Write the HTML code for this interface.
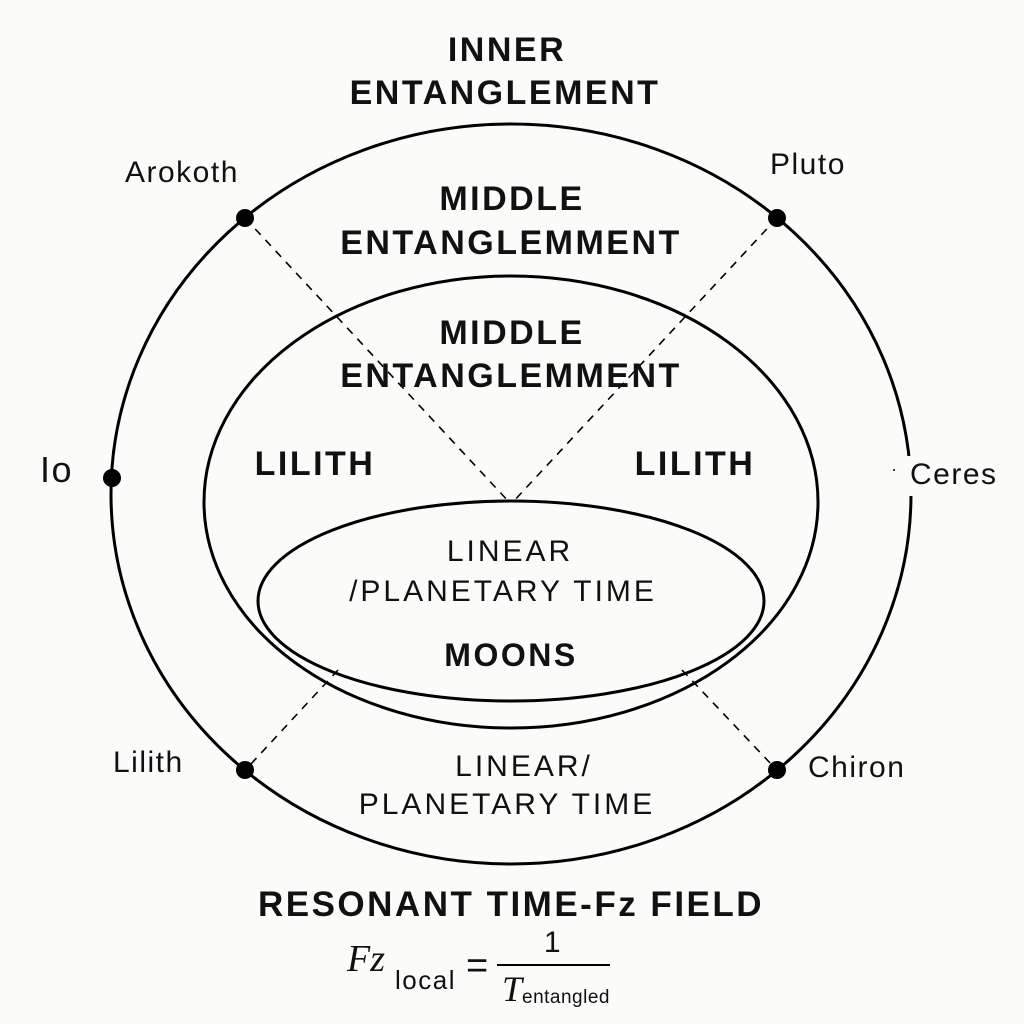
<!DOCTYPE html>
<html><head><meta charset="utf-8"><style>
html,body{margin:0;padding:0;background:#fbfbfa;}
svg{display:block}
.h{font-family:"Liberation Sans",sans-serif;font-weight:bold;letter-spacing:2.5px;fill:#111}
.n{font-family:"Liberation Sans",sans-serif;letter-spacing:3px;fill:#111}
.l{font-family:"Liberation Sans",sans-serif;fill:#111;letter-spacing:1.5px}
</style></head><body>
<svg width="1024" height="1024" viewBox="0 0 1024 1024">
<rect width="1024" height="1024" fill="#fbfbfa"/>
<g fill="none" stroke="#000" stroke-width="3">
<ellipse cx="511" cy="494" rx="400" ry="370"/>
<ellipse cx="511" cy="502" rx="307" ry="226"/>
<ellipse cx="511" cy="601" rx="253" ry="100"/>
</g>
<g stroke="#000" stroke-width="1.6" stroke-dasharray="8,7">
<line x1="245" y1="218" x2="510" y2="503"/>
<line x1="777" y1="218" x2="512" y2="503"/>
<line x1="338" y1="670" x2="250" y2="765"/>
<line x1="682" y1="670" x2="772" y2="765"/>
</g>
<g fill="#000">
<circle cx="245" cy="218" r="9"/><circle cx="777" cy="218" r="9"/>
<circle cx="112" cy="478" r="9"/><circle cx="245" cy="770" r="9"/><circle cx="777" cy="770" r="9"/>
</g>
<rect x="902" y="456" width="20" height="40" fill="#fbfbfa"/>
<circle cx="894" cy="470" r="1" fill="#000"/>
<g text-anchor="middle">
<text class="h" x="507" y="61" font-size="34">INNER</text>
<text class="h" x="505" y="104" font-size="34">ENTANGLEMENT</text>
<text class="h" x="512" y="210" font-size="34">MIDDLE</text>
<text class="h" x="511" y="254" font-size="34">ENTANGLEMMENT</text>
<text class="h" x="512" y="344" font-size="34">MIDDLE</text>
<text class="h" x="511" y="387" font-size="34">ENTANGLEMMENT</text>
<text class="h" x="315" y="475" font-size="34">LILITH</text>
<text class="h" x="695" y="475" font-size="34">LILITH</text>
<text class="n" x="510" y="561" font-size="30">LINEAR</text>
<text class="n" x="503" y="601" font-size="30">/PLANETARY TIME</text>
<text class="h" x="511" y="666" font-size="32">MOONS</text>
<text class="n" x="524" y="776" font-size="30">LINEAR/</text>
<text class="n" x="507" y="814" font-size="30">PLANETARY TIME</text>
<text class="h" x="511" y="916" font-size="35">RESONANT TIME-Fz FIELD</text>
</g>
<text class="l" x="125" y="182" font-size="30">Arokoth</text>
<text class="l" x="770" y="174" font-size="30">Pluto</text>
<text class="l" x="40" y="482" font-size="36">Io</text>
<text class="l" x="910" y="484" font-size="30">Ceres</text>
<text class="l" x="113" y="772" font-size="30">Lilith</text>
<text class="l" x="808" y="777" font-size="30">Chiron</text>
<text x="347" y="971" font-family="Liberation Serif,serif" font-style="italic" font-size="38" fill="#111">Fz</text>
<text class="l" x="395" y="989" font-size="26">local</text>
<text class="l" x="466" y="978" font-size="38" style="letter-spacing:0">=</text>
<line x1="497" y1="965" x2="610" y2="965" stroke="#000" stroke-width="2"/>
<text class="l" x="553" y="952" font-size="30" text-anchor="middle">1</text>
<text x="502" y="1001" font-family="Liberation Serif,serif" font-style="italic" font-size="36" fill="#111">T</text>
<text class="l" x="522" y="1003" font-size="19" style="letter-spacing:0.5px">entangled</text>
</svg>
</body></html>
